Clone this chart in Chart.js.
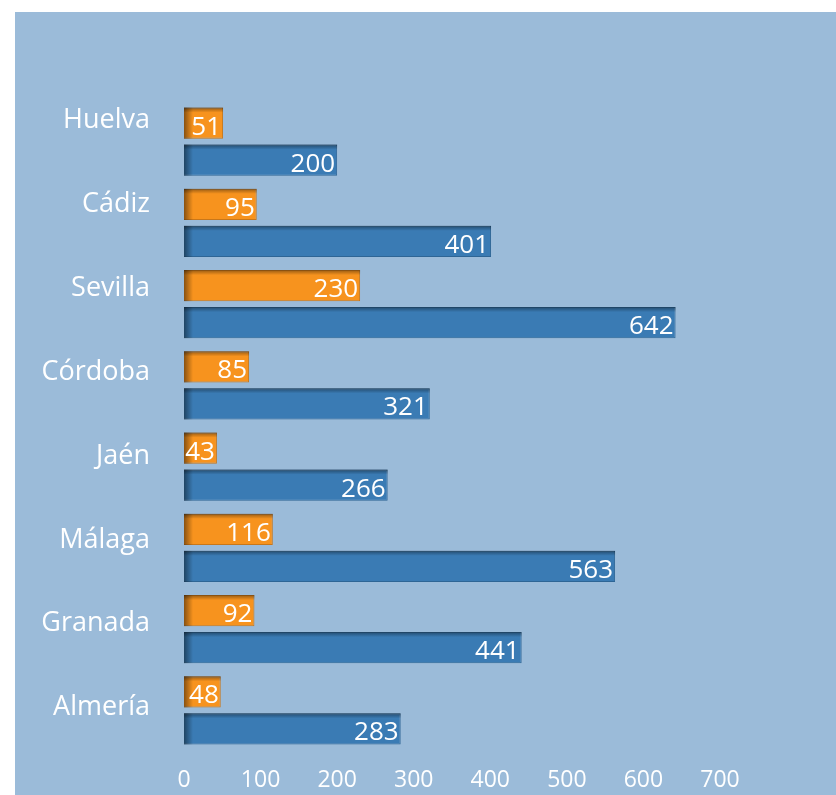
<!DOCTYPE html>
<html>
<head>
<meta charset="utf-8">
<script src="https://cdn.jsdelivr.net/npm/chart.js@4"></script>
<style>
  html, body { margin: 0; padding: 0; background: #fff; }
  #wrap { position: relative; width: 836px; height: 795px; }
  #panel { position: absolute; left: 15px; top: 12px; right: 0; bottom: 0; background: #9bbbd9; }
  canvas { position: absolute; left: 0; top: 0; }
</style>
</head>
<body>
<div id="wrap">
  <div id="panel"></div>
  <canvas id="chart" width="836" height="795"></canvas>
</div>
<script>
const provinces = ["Huelva", "Cádiz", "Sevilla", "Córdoba", "Jaén", "Málaga", "Granada", "Almería"];
const orangeValues = [51, 95, 230, 85, 43, 116, 92, 48];
const blueValues = [200, 401, 642, 321, 266, 563, 441, 283];
const xTicks = [0, 100, 200, 300, 400, 500, 600, 700];

const FONT = "'Open Sans', 'Noto Sans', sans-serif";

// value label at the end of each bar, plus the inner shadow on top/left
const barDecor = {
  id: "barDecor",
  afterDatasetsDraw(chart){
    const ctx = chart.ctx;
    chart.data.datasets.forEach((ds, di) => {
      const meta = chart.getDatasetMeta(di);
      meta.data.forEach((bar, i) => {
        const left = Math.min(bar.x, bar.base);
        const right = Math.max(bar.x, bar.base);
        const top = bar.y - bar.height / 2;
        const h = bar.height;
        ctx.save();
        let g = ctx.createLinearGradient(left, 0, left + 9, 0);
        g.addColorStop(0, "rgba(0,0,0,0.45)");
        g.addColorStop(1, "rgba(0,0,0,0)");
        ctx.fillStyle = g;
        ctx.fillRect(left, top, Math.min(9, right - left), h);
        g = ctx.createLinearGradient(0, top, 0, top + 5);
        g.addColorStop(0, "rgba(0,0,0,0.38)");
        g.addColorStop(1, "rgba(0,0,0,0)");
        ctx.fillStyle = g;
        ctx.fillRect(left, top, right - left, 5);

        ctx.fillStyle = "#ffffff";
        ctx.font = "26px " + FONT;
        ctx.textAlign = "right";
        ctx.textBaseline = "middle";
        ctx.fillText(String(ds.data[i]), right - 2, bar.y + 4);
        ctx.restore();
      });
    });
  }
};

const ctx = document.getElementById("chart").getContext("2d");

new Chart(ctx, {
  type: "bar",
  data: {
    labels: provinces,
    datasets: [
      {
        data: orangeValues,
        backgroundColor: "#f7931e",
        borderColor: "#c8771a",
        borderWidth: 1,
        categoryPercentage: 0.911,
        barPercentage: 0.838
      },
      {
        data: blueValues,
        backgroundColor: "#3a7bb4",
        borderColor: "#2e6595",
        borderWidth: 1,
        categoryPercentage: 0.911,
        barPercentage: 0.838
      }
    ]
  },
  options: {
    indexAxis: "y",
    responsive: false,
    animation: false,
    layout: { padding: { top: 101, right: 116, bottom: 0, left: 0 } },
    plugins: {
      legend: { display: false },
      tooltip: { enabled: false }
    },
    scales: {
      x: {
        min: 0,
        max: 700,
        afterBuildTicks(scale){
          scale.ticks = xTicks.map(v => ({ value: v }));
        },
        afterFit(scale){ scale.height = 44; scale.paddingLeft = 0; scale.paddingRight = 0; },
        grid: { display: false, drawTicks: false },
        border: { display: false },
        ticks: {
          color: "#ffffff",
          padding: 16,
          font: { family: FONT, size: 23 }
        }
      },
      y: {
        afterFit(scale){ scale.width = 0; scale.paddingTop = 0; scale.paddingBottom = 0; },
        grid: { display: false, drawTicks: false },
        border: { display: false },
        ticks: { display: false }
      },
      // province names sit a little above each bar pair, spaced slightly wider
      yNames: {
        type: "linear",
        position: "left",
        reverse: true,
        offset: false,
        min: -0.234,
        max: 7.517,
        afterBuildTicks(scale){
          scale.ticks = provinces.map((p, i) => ({ value: i }));
        },
        afterFit(scale){ scale.width = 184; scale.paddingTop = 0; scale.paddingBottom = 0; },
        grid: { display: false, drawTicks: false },
        border: { display: false },
        ticks: {
          color: "#ffffff",
          padding: 34,
          font: { family: FONT, size: 27 },
          callback: (v) => provinces[v]
        }
      }
    }
  },
  plugins: [barDecor]
});
</script>
</body>
</html>
